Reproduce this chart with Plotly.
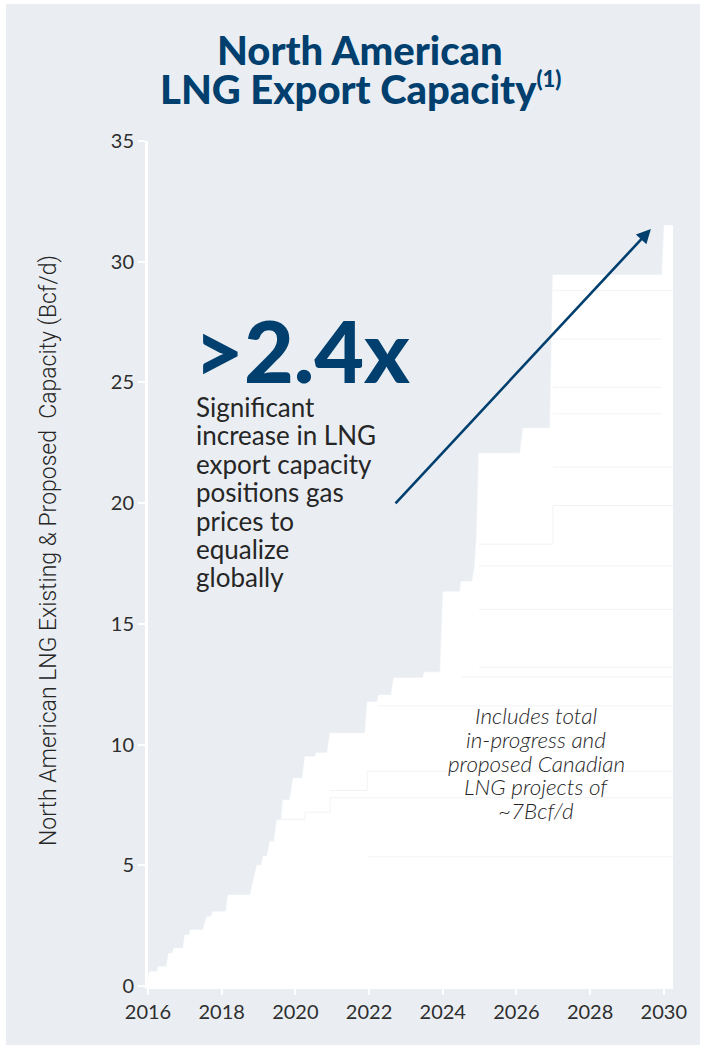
import plotly.graph_objects as go

# Cumulative North American LNG export capacity (Bcf/d) by date
cap_years = [2016.00, 2016.05, 2016.24, 2016.28, 2016.50, 2016.56, 2016.66, 2016.70,
             2016.95, 2017.00, 2017.12, 2017.15, 2017.49, 2017.60, 2017.72, 2017.75,
             2018.12, 2018.17, 2018.77, 2018.96, 2019.08, 2019.12, 2019.23, 2019.31,
             2019.42, 2019.50, 2019.62, 2019.66, 2019.85, 2019.94, 2020.19, 2020.26,
             2020.53, 2020.56, 2020.86, 2020.94, 2021.89, 2021.95, 2022.22, 2022.26,
             2022.60, 2022.67, 2023.46, 2023.50, 2023.93, 2024.01, 2024.47, 2024.50,
             2024.80, 2024.86, 2024.92, 2024.98, 2026.10, 2026.18, 2026.91, 2026.99,
             2029.95, 2030.01, 2030.25]
cap_values = [0.30, 0.59, 0.59, 0.80, 0.80, 1.35, 1.35, 1.56,
              1.56, 2.11, 2.11, 2.32, 2.32, 2.87, 2.87, 3.08,
              3.08, 3.77, 3.77, 5.00, 5.00, 5.36, 5.36, 5.98,
              5.98, 6.88, 6.88, 7.70, 7.70, 8.60, 8.60, 9.50,
              9.50, 9.65, 9.65, 10.47, 10.47, 11.76, 11.76, 12.05,
              12.05, 12.76, 12.76, 13.00, 13.00, 16.33, 16.33, 16.75,
              16.75, 17.30, 18.60, 22.07, 22.07, 23.10, 23.10, 29.45,
              29.45, 31.50, 31.50]

# Boundaries between individual project tranches inside the total
layer_years = [
    [2021.95, 2030.25],
    [2019.62, 2020.26, 2020.94, 2030.25],
    [2020.94, 2021.95, 2030.25],
    [2022.26, 2030.25],
    [2024.50, 2030.25],
    [2024.98, 2030.25],
    [2024.98, 2030.25],
    [2024.98, 2030.25],
    [2024.98, 2026.99, 2030.25],
    [2026.99, 2030.25],
    [2026.99, 2029.95],
    [2026.99, 2029.95],
    [2026.99, 2029.95],
    [2026.99, 2030.25],
]
layer_values = [
    [5.35, 5.35],
    [6.90, 7.20, 7.80, 7.80],
    [8.10, 8.90, 8.90],
    [11.60, 11.60],
    [12.80, 12.80],
    [13.20, 13.20],
    [15.60, 15.60],
    [17.40, 17.40],
    [18.30, 19.90, 19.90],
    [21.50, 21.50],
    [23.70, 23.70],
    [24.80, 24.80],
    [26.80, 26.80],
    [28.80, 28.80],
]

x_ticks = [2016, 2018, 2020, 2022, 2024, 2026, 2028, 2030]
y_ticks = [0, 5, 10, 15, 20, 25, 30, 35]

# Arrow from the callout up to the end-of-period capacity
arrow_tail = (2022.68, 19.93)
arrow_head = (2029.65, 31.36)

y_title = "North American LNG Existing & Proposed  Capacity (Bcf/d)"
headline = ">2.4x"
body_lines = ["Significant", "increase in LNG", "export capacity",
              "positions gas", "prices to", "equalize", "globally"]
note_lines = ["Includes total", "in-progress and", "proposed Canadian",
              "LNG projects of", "~7Bcf/d"]
title_lines = ["North American",
               "LNG Export Capacity<sup><span style='font-size:22px'>(1)</span></sup>"]

NAVY = "#003F6E"
PANEL = "#EAEEF3"
TEXT = "#262626"

W, H = 705, 1049
ML, MR, MT, MB = 148, 32, 141, 63
PW, PH = W - ML - MR, H - MT - MB


def px_x(px):
    return (px - ML) / PW


def px_y(py):
    return (H - MB - py) / PH


fig = go.Figure()

fig.add_trace(go.Scatter(
    x=cap_years, y=cap_values, mode="lines", fill="tozeroy",
    fillcolor="white", line=dict(color="white", width=0.5),
    hoverinfo="skip", showlegend=False))

for lx, ly in zip(layer_years, layer_values):
    fig.add_trace(go.Scatter(
        x=lx, y=ly, mode="lines", line=dict(color="#F0F3F6", width=1, shape="hv"),
        hoverinfo="skip", showlegend=False))

annotations = []

# Title
for text, cy in zip(title_lines, [50, 89]):
    annotations.append(dict(
        text=text, xref="paper", yref="paper", x=px_x(360), y=px_y(cy),
        xanchor="center", yanchor="middle", showarrow=False,
        font=dict(family="Lato", size=40, color=NAVY, weight=900)))

# Vertical axis title
annotations.append(dict(
    text=y_title, xref="paper", yref="paper", x=px_x(48), y=px_y(551),
    xanchor="center", yanchor="middle", textangle=-90, showarrow=False,
    font=dict(family="Roboto", size=23, color=TEXT, weight=300)))

# Headline multiplier
annotations.append(dict(
    text=headline, xref="paper", yref="paper", x=px_x(192), y=px_y(349),
    xanchor="left", yanchor="middle", showarrow=False,
    font=dict(family="Lato", size=86, color=NAVY, weight=900)))

# Callout body
for i, line in enumerate(body_lines):
    annotations.append(dict(
        text=line, xref="paper", yref="paper", x=px_x(194), y=px_y(407 + 28.4 * i),
        xanchor="left", yanchor="middle", showarrow=False,
        font=dict(family="Lato", size=26, color=TEXT)))

# Canadian projects note
for i, line in enumerate(note_lines):
    annotations.append(dict(
        text="<i>" + line + "</i>", xref="paper", yref="paper",
        x=px_x(536), y=px_y(716 + 23.5 * i),
        xanchor="center", yanchor="middle", showarrow=False,
        font=dict(family="Lato", size=22.5, color=TEXT, weight=300)))

# Arrow
annotations.append(dict(
    x=arrow_head[0], y=arrow_head[1], ax=arrow_tail[0], ay=arrow_tail[1],
    xref="x", yref="y", axref="x", ayref="y", text="", showarrow=True,
    arrowhead=2, arrowsize=1.1, arrowwidth=2.6, arrowcolor=NAVY))

fig.update_layout(
    width=W, height=H,
    margin=dict(l=ML, r=MR, t=MT, b=MB, autoexpand=False),
    paper_bgcolor="white", plot_bgcolor=PANEL,
    showlegend=False,
    annotations=annotations,
    shapes=[dict(type="rect", xref="paper", yref="paper",
                 x0=px_x(6), x1=px_x(700), y0=px_y(1045), y1=px_y(4),
                 fillcolor=PANEL, line=dict(width=0), layer="below")],
    xaxis=dict(range=[2016, 2030.25], tickvals=x_ticks, showgrid=False, zeroline=False,
               showline=True, linecolor="white", linewidth=3,
               ticks="outside", tickcolor="white", ticklen=6, tickwidth=2,
               tickfont=dict(family="Lato", size=20, color="#2E2E2E")),
    yaxis=dict(range=[0, 35], tickvals=y_ticks, showgrid=False, zeroline=False,
               showline=True, linecolor="white", linewidth=3,
               ticks="outside", tickcolor="white", ticklen=7, tickwidth=2,
               tickfont=dict(family="Lato", size=20, color="#2E2E2E")),
)

fig.write_html("out.html")
